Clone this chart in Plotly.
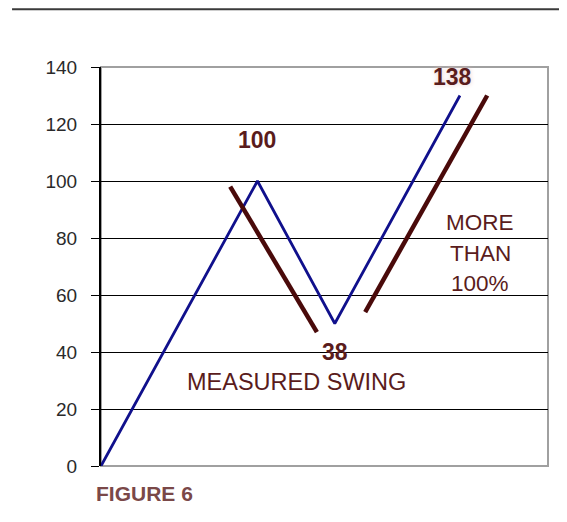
import plotly.graph_objects as go

# Data: price swing and the two measuring lines
swing_x = [0, 35, 52.3, 80.3]
swing_y = [0, 100, 50, 130]

measure1_x = [28.9, 48.3]
measure1_y = [98, 47]

measure2_x = [59.1, 86.4]
measure2_y = [54, 130]

y_ticks = [0, 20, 40, 60, 80, 100, 120, 140]

label_100 = (35, 114.5, "100")
label_138 = (78.7, 136.5, "138")
label_38 = (52.3, 40, "38")
swing_label = (43.8, 29.5, "MEASURED SWING")
more_lines = ["MORE", "THAN", "100%"]
more_y = [85.6, 74.7, 63.9]

maroon = "#4a0a0a"
text_col = "#5a1c1c"

fig = go.Figure()

fig.add_trace(go.Scatter(
    x=swing_x, y=swing_y, mode="lines",
    line=dict(color="#10108c", width=2.8),
    hoverinfo="skip", showlegend=False
))
fig.add_trace(go.Scatter(
    x=measure1_x, y=measure1_y, mode="lines",
    line=dict(color=maroon, width=4.5),
    hoverinfo="skip", showlegend=False
))
fig.add_trace(go.Scatter(
    x=measure2_x, y=measure2_y, mode="lines",
    line=dict(color=maroon, width=4.5),
    hoverinfo="skip", showlegend=False
))

bold_font = dict(family="Liberation Sans", size=23, color=text_col, weight="bold")
annotations = []
for lx, ly, txt in [label_100, label_38]:
    annotations.append(dict(x=lx, y=ly, text=txt, showarrow=False, font=bold_font))
annotations.append(dict(
    x=label_138[0], y=label_138[1], text=label_138[2], showarrow=False,
    font=dict(family="Liberation Sans", size=23, color=text_col, weight="bold",
              shadow="0px 0px 5px #e8c8c8")
))
annotations.append(dict(
    x=swing_label[0], y=swing_label[1], text=swing_label[2], showarrow=False,
    font=dict(family="Liberation Sans", size=23.5, color=text_col)
))
for txt, ly in zip(more_lines, more_y):
    annotations.append(dict(
        x=84.8, y=ly, text=txt, showarrow=False,
        font=dict(family="Liberation Sans", size=22.5, color=text_col)
    ))
annotations.append(dict(
    xref="paper", yref="paper", x=-0.016, y=-0.035, xanchor="left", yanchor="top",
    text="FIGURE 6", showarrow=False,
    font=dict(family="Liberation Sans Narrow, Liberation Sans", size=21,
              color="#7a4848", weight="bold")
))

# the page has an 8px body margin, so the figure is drawn 8px in
fig.update_layout(
    width=559, height=514,
    margin=dict(l=93, r=19, t=59, b=56),
    paper_bgcolor="white",
    plot_bgcolor="white",
    annotations=annotations,
    shapes=[
        # plot border (gray)
        dict(type="rect", xref="paper", yref="paper", x0=0, y0=0, x1=1, y1=1,
             line=dict(color="#a0a0a0", width=2), layer="below"),
        # top rule of the page
        dict(type="line", xref="paper", yref="paper", x0=-0.199, x1=1.05,
             y0=1.145, y1=1.145, line=dict(color="#3a3a3a", width=2)),
    ],
)
fig.update_xaxes(range=[0, 100], showgrid=False, showticklabels=False,
                 zeroline=False, showline=False, ticks="")
fig.update_yaxes(
    range=[0, 140], tickvals=y_ticks, showgrid=True, gridcolor="black", gridwidth=1,
    zeroline=False, showline=True, linecolor="black", linewidth=2,
    ticks="outside", ticklen=8, tickcolor="black", ticklabelstandoff=10,
    tickfont=dict(family="Liberation Sans", size=19, color="#2a2a2a")
)

fig.write_html("out.html")
